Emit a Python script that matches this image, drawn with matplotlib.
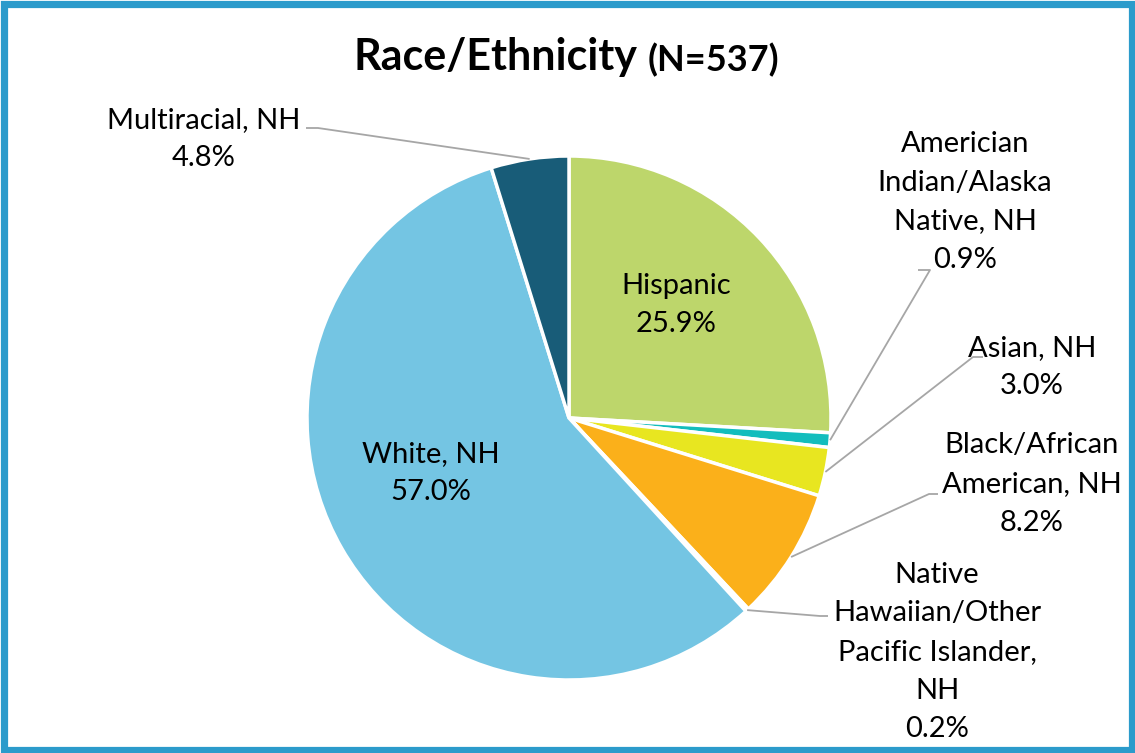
import numpy as np
import matplotlib
matplotlib.use('Agg')
import matplotlib.pyplot as plt
from matplotlib.patches import Rectangle

plt.rcParams['font.family'] = ['Lato', 'DejaVu Sans']

# data
categories = ['Hispanic', 'American Indian/Alaska Native, NH', 'Asian, NH',
              'Black/African American, NH', 'Native Hawaiian/Other Pacific Islander, NH',
              'White, NH', 'Multiracial, NH']
label_text = ['Hispanic', 'Americian\nIndian/Alaska\nNative, NH', 'Asian, NH',
              'Black/African\nAmerican, NH', 'Native\nHawaiian/Other\nPacific Islander,\nNH',
              'White, NH', 'Multiracial, NH']
values = [25.9, 0.9, 3.0, 8.2, 0.2, 57.0, 4.8]
colors = ['#BDD66B', '#13BDBD', '#E8E620', '#FBB01A', '#2E75B6', '#74C5E3', '#185C78']

W, H = 1135, 753
fig = plt.figure(figsize=(W / 100, H / 100), dpi=100)
ax = fig.add_axes([0, 0, 1, 1])

def Y(py):
    return H - py

cx, cy, r = 569, Y(418), 262
ax.pie(values, colors=colors, startangle=90, counterclock=False,
       center=(cx, cy), radius=r, frame=True,
       wedgeprops=dict(edgecolor='white', linewidth=2.5))
ax.set_xlim(0, W)
ax.set_ylim(0, H)
ax.axis('off')

# label placement (pixel coords): text center, leader elbow, leader start
fs = 21
lbl = {
    0: dict(xy=(676, 305), inside=True),
    5: dict(xy=(431, 473), inside=True),
    6: dict(xy=(204, 139), elbow=(318, 128), start=(306, 128)),
    1: dict(xy=(965, 202), elbow=(930, 270), start=(918, 270)),
    2: dict(xy=(1032, 367), elbow=(973, 357), start=(983, 357)),
    3: dict(xy=(1032, 484), elbow=(929, 494), start=(938, 494)),
    4: dict(xy=(937, 652), elbow=(820, 616), start=(828, 616)),
}

cum = np.cumsum([0] + values[:-1])
for i, v in enumerate(values):
    txt = f"{label_text[i]}\n{v:.1f}%"
    info = lbl[i]
    tx, ty = info['xy']
    ax.text(tx, Y(ty), txt, ha='center', va='center', fontsize=fs,
            color='black', linespacing=1.6)
    if not info.get('inside'):
        ang = np.deg2rad(90 - 360 * (cum[i] + v / 2) / 100)
        ex, ey = cx + r * np.cos(ang), cy + r * np.sin(ang)
        sx, sy = info['start']
        bx, by = info['elbow']
        ax.plot([sx, bx, ex], [Y(sy), Y(by), ey], color='#A6A6A6', lw=1.3,
                solid_capstyle='butt', zorder=1)

# title
ax.text(637, Y(57), 'Race/Ethnicity', ha='right', va='center', fontsize=31,
        fontweight='bold')
ax.text(648, Y(60), '(N=537)', ha='left', va='center', fontsize=26,
        fontweight='bold')

# frame
fig.patches.append(Rectangle((3.5 / W, 3.5 / H), 1 - 7 / W, 1 - 7 / H,
                             transform=fig.transFigure, fill=False,
                             edgecolor='#2B9BCB', linewidth=5.2))

fig.savefig('out.png', dpi=100)
